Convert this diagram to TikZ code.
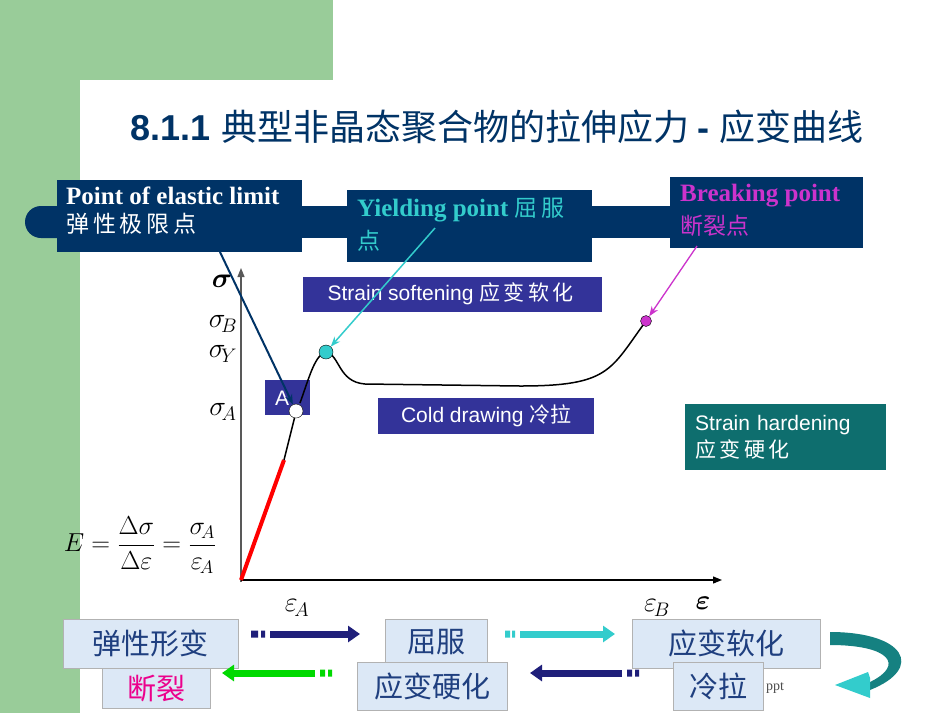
\RequirePackage{fix-cm}
\documentclass[tikz,border=0pt]{standalone}
\usepackage{amsmath,bm}
\usepackage{fontspec}
\setmainfont{Liberation Serif}
\newfontfamily\arialf{Liberation Sans}
\newfontfamily\cjk{Noto Sans CJK SC}
\usetikzlibrary{arrows.meta}
\definecolor{navy}{HTML}{003366}
\definecolor{indig}{HTML}{333399}
\definecolor{tealb}{HTML}{0E6E6E}
\definecolor{grn}{HTML}{99CC99}
\definecolor{cy}{HTML}{33CCCC}
\definecolor{mag}{HTML}{CC33CC}
\definecolor{lb}{HTML}{DCE8F6}
\definecolor{tb}{HTML}{1F3F7F}
\begin{document}
\begin{tikzpicture}[x=1pt,y=-1pt,
 lab/.style={fill=indig,text=white,font=\arialf\fontsize{21}{24}\selectfont,inner sep=0pt,anchor=north west},
 navybox/.style={fill=navy,inner sep=0pt,anchor=north west},
 bbox/.style={fill=lb,draw=gray!60,inner sep=0pt,anchor=north west,text=tb,font=\cjk\fontsize{29}{32}\selectfont},
 mlab/.style={font=\fontsize{28}{28}\selectfont,inner sep=0pt},
 fat/.style={line width=7pt,-{Triangle[length=12pt,width=16pt]}}]
\useasboundingbox (0,0) rectangle (950,713);
\fill[grn] (0,0) rectangle (333,80);
\fill[grn] (0,0) rectangle (80,713);
\fill[white] (80,105) arc[start angle=180,end angle=90,radius=25] -- (333,80) -- (333,0) -- (950,0) -- (950,713) -- (80,713) -- cycle;
\node (title) at (497,127) {\textcolor{navy}{\arialf\bfseries\fontsize{36}{40}\selectfont 8.1.1 \cjk\mdseries 典型非晶态聚合物的拉伸应力 \arialf\bfseries - \cjk\mdseries 应变曲线}};
% band
\fill[navy,rounded corners=16pt] (25,206) rectangle (80,238);
\fill[navy] (60,206) rectangle (680,238);
\node[navybox,minimum width=245pt,minimum height=72pt] (pb) at (57,180) {};
\node[anchor=north west,text=white,align=left,inner sep=0pt] (pt) at (66,187) {\bfseries\fontsize{25}{29}\selectfont Point of elastic limit\\[7pt]\cjk\mdseries\fontsize{23}{26}\selectfont 弹\,性\,极\,限\,点};
\node[navybox,minimum width=245pt,minimum height=72pt] (yb) at (347,190) {};
\node[anchor=north west,text=cy,align=left,inner sep=0pt] (yt) at (357,198) {\bfseries\fontsize{25}{29}\selectfont Yielding point \cjk\mdseries\fontsize{23}{26}\selectfont 屈\,服\\[7pt]\cjk\fontsize{23}{26}\selectfont 点};
\node[navybox,minimum width=193pt,minimum height=71pt] (bb) at (670,177) {};
\node[anchor=north west,text=mag,align=left,inner sep=0pt] (bt) at (680,184) {\bfseries\fontsize{25}{29}\selectfont Breaking point\\[7pt]\cjk\mdseries\fontsize{23}{26}\selectfont 断裂点};
% axes
\coordinate (o) at (241,580);
\coordinate (ytop) at (241,268);
\coordinate (xend) at (722,580);
\draw[gray!70!black,line width=1.2pt,-{Triangle[length=9pt,width=7pt]}] (241,582) -- (ytop);
\draw[black,line width=1.2pt,-{Triangle[length=9pt,width=7pt]}] (o) -- (xend);
\node[mlab] (sig) at (222,281) {$\bm{\sigma}$};
\node[mlab] (sB) at (223,324) {$\sigma_{\!B}$};
\node[mlab] (sY) at (223,354) {$\sigma_{\!Y}$};
\node[mlab] (sA) at (223,412) {$\sigma_{\!A}$};
\node[mlab] (eA) at (297,608) {$\varepsilon_{\!A}$};
\node[mlab] (eB) at (657,608) {$\varepsilon_{\!B}$};
\node[mlab] (ee) at (703,603) {$\bm{\varepsilon}$};
% boxes
\node[lab,minimum width=45pt,minimum height=35pt] (Abox) at (265,380) {};
\node[text=white,font=\arialf\fontsize{21}{24}\selectfont] (Atx) at (282,398) {A};
\node[lab,minimum width=299pt,minimum height=35pt,anchor=west,inner xsep=10pt,align=left] (ss) at (303,294) {Strain softening \cjk 应\,变\,软\,化\hspace{4pt}};
\node[lab,minimum width=216pt,minimum height=36pt,anchor=west,inner xsep=10pt] (cd) at (378,416) {Cold drawing \cjk 冷拉};
\node[lab,anchor=north west,fill=tealb,minimum width=201pt,minimum height=66pt,align=left,inner xsep=10pt,text width=181pt] (sh) at (685,404) {Strain hardening\\[3pt]\cjk 应\,变\,硬\,化};
% curve
\draw[red,line width=4pt] (o) -- (284,460) coordinate (r1);
\draw[black,line width=1.5pt] (r1) -- (296,412);
\draw[black,line width=1.5pt] (300,403) .. controls (310,375) and (315,355) .. (326,352) .. controls (340,355) and (338,382) .. (365,384) -- (520,386) .. controls (610,386) and (610,370) .. (646,321);
\node[circle,draw=black,fill=white,minimum size=14pt,inner sep=0pt] (cA) at (296,411) {};
\node[circle,draw=black,fill=cy,minimum size=14pt,inner sep=0pt] (cY) at (326,352) {};
\node[circle,draw=black,fill=mag,minimum size=11pt,inner sep=0pt] (cB) at (646,321) {};
\draw[navy,line width=2pt,-{Stealth[length=10pt]}] (220,252) -- (cA);
\draw[cy,line width=1.5pt,-{Stealth[length=10pt]}] (435,228) -- (cY);
\draw[mag,line width=1.3pt,-{Stealth[length=10pt]}] (697,246) -- (cB);
\node (E) at (140,545) {\fontsize{26}{26}\selectfont$E=\dfrac{\Delta\sigma}{\Delta\varepsilon}=\dfrac{\sigma_{\!A}}{\varepsilon_{\!A}}$};
% bottom
\node[bbox,minimum width=175pt,minimum height=49pt] (b1) at (63,619) {弹性形变};
\node[bbox,minimum width=108pt,minimum height=40pt,text=magenta] (b2) at (102,668) {断裂};
\node[bbox,minimum width=102pt,minimum height=46pt] (b3) at (385,619) {屈服};
\node[bbox,minimum width=150pt,minimum height=48pt] (b4) at (357,662) {应变硬化};
\node[bbox,minimum width=188pt,minimum height=49pt] (b5) at (632,619) {应变软化};
\node[bbox,minimum width=90pt,minimum height=48pt] (b6) at (673,662) {冷拉};
\node[text=gray!60!black,font=\fontsize{14}{14}\selectfont] (ppt) at (775,688) {ppt};
\draw[fat,color=gray!40!blue!60!black] (270,634) -- (360,634);
\fill[gray!40!blue!60!black] (251,630.5) rectangle (258,637.5) (261,630.5) rectangle (265,637.5);
\draw[fat,color=cy] (520,634) -- (615,634);
\fill[cy] (505,630.5) rectangle (510,637.5) (512,630.5) rectangle (515,637.5);
\draw[fat,color=gray!40!blue!60!black] (622,673) -- (530,673);
\fill[gray!40!blue!60!black] (627,669.5) rectangle (632,676.5) (635,669.5) rectangle (639,676.5);
\draw[fat,color=green!85!black] (315,673) -- (222,673);
\fill[green!85!black] (320,669.5) rectangle (325,676.5) (328,669.5) rectangle (332,676.5);
\fill[tealb!80!cy] (830,632) .. controls (905,632) and (925,668) .. (870,690) -- (870,682) .. controls (905,665) and (890,645) .. (830,645) -- cycle;
\fill[cy] (870,678) -- (870,698) -- (835,685) -- (868,672) -- cycle;
\end{tikzpicture}
\end{document}
